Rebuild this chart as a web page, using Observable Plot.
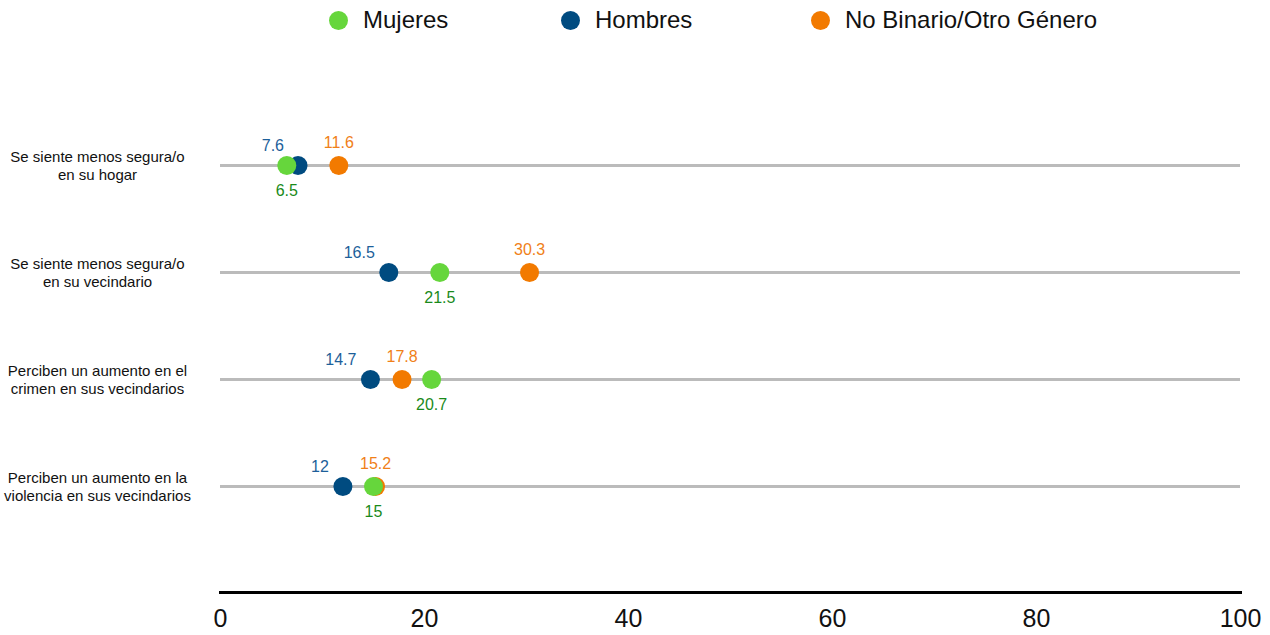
<!DOCTYPE html>
<html>
<head>
<meta charset="utf-8">
<script src="https://cdn.jsdelivr.net/npm/d3@7"></script>
<script src="https://cdn.jsdelivr.net/npm/@observablehq/plot@0.6"></script>
<style>
  html, body { margin: 0; padding: 0; background: #fff; }
  body { width: 1270px; height: 635px; overflow: hidden; font-family: "Liberation Sans", Arial, Helvetica, sans-serif; }
  #legend { position: relative; height: 40px; width: 1270px; }
  .item { position: absolute; top: 0; height: 40px; display: flex; align-items: center; font-size: 24px; color: #111; }
  .dot { width: 19px; height: 19px; border-radius: 50%; margin-right: 15px; }
  #chart svg { display: block; }
</style>
</head>
<body>
<div id="legend"></div>
<div id="chart"></div>
<script>
const categories = [
  "Se siente menos segura/o\nen su hogar",
  "Se siente menos segura/o\nen su vecindario",
  "Perciben un aumento en el\ncrimen en sus vecindarios",
  "Perciben un aumento en la\nviolencia en sus vecindarios"
];
const seriesNames = ["Mujeres", "Hombres", "No Binario/Otro Género"];
const mujeres = [6.5, 21.5, 20.7, 15];
const hombres = [7.6, 16.5, 14.7, 12];
const noBinario = [11.6, 30.3, 17.8, 15.2];
const xTicks = [0, 20, 40, 60, 80, 100];

const dotColors = {"Mujeres": "#66d63c", "Hombres": "#004b80", "No Binario/Otro Género": "#f27a00"};
const labelColors = {"Mujeres": "#1a8a1a", "Hombres": "#1d5f9a", "No Binario/Otro Género": "#f08018"};

// legend
const legendX = {"Mujeres": 329, "Hombres": 561, "No Binario/Otro Género": 811};
const legend = d3.select("#legend");
seriesNames.forEach(s => {
  const it = legend.append("div").attr("class", "item").style("left", legendX[s] + "px");
  it.append("div").attr("class", "dot").style("background", dotColors[s]);
  it.append("span").text(s);
});

const rows = [];
categories.forEach((c, i) => {
  rows.push({cat: c, series: "Hombres", value: hombres[i]});
  rows.push({cat: c, series: "No Binario/Otro Género", value: noBinario[i]});
  rows.push({cat: c, series: "Mujeres", value: mujeres[i]});
});
const byS = s => rows.filter(d => d.series === s);

const plot = Plot.plot({
  width: 1270,
  height: 595,
  marginLeft: 220,
  marginRight: 30,
  marginTop: 125,
  marginBottom: 43,
  style: {fontFamily: "'Liberation Sans', Arial, Helvetica, sans-serif", background: "#fff"},
  x: {domain: [0, 100], ticks: xTicks},
  y: {type: "point", domain: categories, range: [125, 446], padding: 0},
  marks: [
    Plot.ruleY(categories, {y: d => d, x1: 0, x2: 100, stroke: "#bbbbbb", strokeWidth: 3}),
    Plot.frame({anchor: "bottom", stroke: "#000", strokeWidth: 3}),
    Plot.axisX({ticks: xTicks, tickSize: 0, tickPadding: 17, fontSize: 25, fill: "#111", label: null}),
    Plot.axisY({tickSize: 0, tickPadding: 123, textAnchor: "middle", fontSize: 15, lineHeight: 1.2, fill: "#111", label: null}),
    Plot.dot(rows, {x: "value", y: "cat", r: 9.5, fill: d => dotColors[d.series], stroke: "none"}),
    Plot.text(byS("Hombres"), {x: "value", y: "cat", text: d => String(d.value), textAnchor: "end", dx: -14, dy: -20, fontSize: 16, fill: labelColors["Hombres"]}),
    Plot.text(byS("No Binario/Otro Género"), {x: "value", y: "cat", text: d => String(d.value), dy: -23, fontSize: 16, fill: labelColors["No Binario/Otro Género"]}),
    Plot.text(byS("Mujeres"), {x: "value", y: "cat", text: d => String(d.value), dy: 25, fontSize: 16, fill: labelColors["Mujeres"]})
  ]
});
document.getElementById("chart").appendChild(plot);
</script>
</body>
</html>
